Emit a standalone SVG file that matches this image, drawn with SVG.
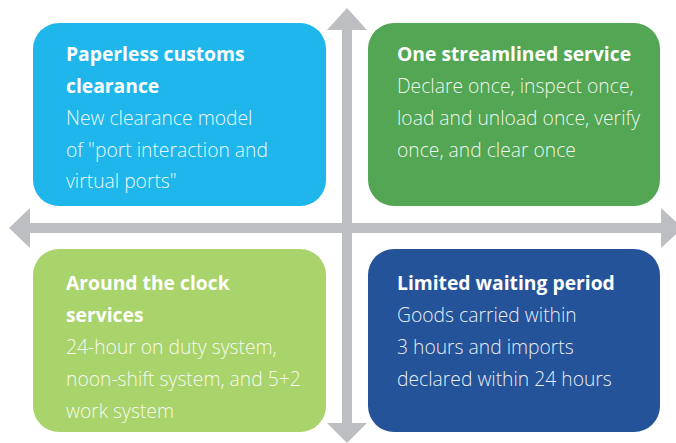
<svg xmlns="http://www.w3.org/2000/svg" width="676" height="443" viewBox="0 0 676 443">
<style>
.t{font-family:"Open Sans","Noto Sans",sans-serif;font-size:19.3px;font-weight:700;fill:#ffffff}
.b{font-family:"Open Sans","Noto Sans",sans-serif;font-size:19.3px;font-weight:300;fill:#ffffff;fill-opacity:0.92}
.ar{fill:#bdbec1}
</style>
<rect width="676" height="443" fill="#ffffff"/>
<g id="connectors">
<rect class="ar" x="342" y="28" width="10" height="398"/>
<polygon class="ar" points="347,8 367,30 327,30"/>
<polygon class="ar" points="347,443 367,423 327,423"/>
<rect class="ar" x="28" y="223" width="636" height="10"/>
<polygon class="ar" points="9,228 30,208 30,248"/>
<polygon class="ar" points="683,228 661,208 661,248"/>
</g>
<g id="node-paperless">
<rect x="33" y="23" width="293" height="183" rx="26" fill="#1fb7eb"/>
<text class="t" x="66" y="61">Paperless customs</text>
<text class="t" x="66" y="93">clearance</text>
<text class="b" x="66" y="125">New clearance model</text>
<text class="b" x="66" y="157">of "port interaction and</text>
<text class="b" x="66" y="188">virtual ports"</text>
</g>
<g id="node-streamlined">
<rect x="368" y="23" width="292" height="183" rx="26" fill="#53a654"/>
<text class="t" x="397" y="61">One streamlined service</text>
<text class="b" x="397" y="93">Declare once, inspect once,</text>
<text class="b" x="397" y="125">load and unload once, verify</text>
<text class="b" x="397" y="157">once, and clear once</text>
</g>
<g id="node-clock">
<rect x="33" y="249" width="293" height="183" rx="26" fill="#a9d36b"/>
<text class="t" x="66" y="290">Around the clock</text>
<text class="t" x="66" y="322">services</text>
<text class="b" x="66" y="354">24-hour on duty system,</text>
<text class="b" x="66" y="386">noon-shift system, and 5+2</text>
<text class="b" x="66" y="418">work system</text>
</g>
<g id="node-waiting">
<rect x="368" y="249" width="292" height="183" rx="26" fill="#24539a"/>
<text class="t" x="397" y="290">Limited waiting period</text>
<text class="b" x="397" y="322">Goods carried within</text>
<text class="b" x="397" y="354">3 hours and imports</text>
<text class="b" x="397" y="386">declared within 24 hours</text>
</g>
</svg>
